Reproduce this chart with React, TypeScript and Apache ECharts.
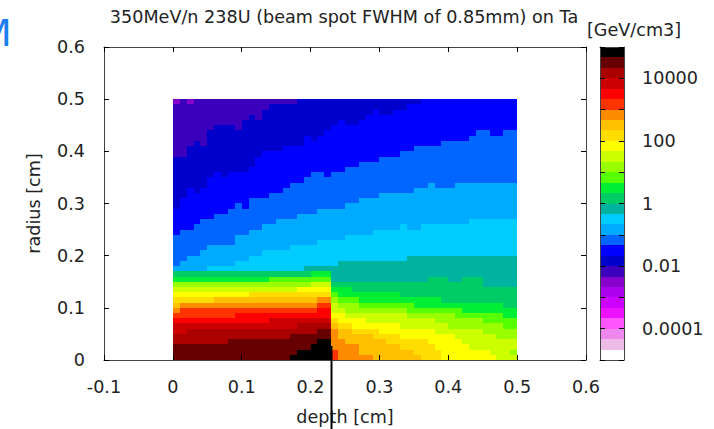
import React, { useEffect, useRef } from "react";
import * as echarts from "echarts";

const title = "350MeV/n 238U (beam spot FWHM of 0.85mm) on Ta";
const unitLabel = "[GeV/cm3]";
const xName = "depth [cm]";
const yName = "radius [cm]";
const barTickLabels: Record<string, string> = { "4": "10000", "2": "100", "0": "1", "-2": "0.01", "-4": "0.0001" };

// colour bands, coldest to hottest, one third of a decade each, from 1e-5 to 1e5
const palette = [
  "#ffffff", "#eebbe8", "#ee88ee", "#ff55ff", "#ee11ff", "#cc00ff", "#aa00ee", "#8800cc", "#3a00bb", "#0000cc",
  "#0000ff", "#0066ff", "#00aaff", "#00ccff", "#00b3a0", "#00cc66", "#00ee33", "#55ff00", "#99ff00", "#ccff00",
  "#ffff00", "#ffdd00", "#ffc000", "#ff8c00", "#ff3300", "#ff0000", "#cc0000", "#aa0000", "#660000", "#000000",
];

// For each band, in each of the 50 depth columns: number of radius rows (from the axis up) at or above that band.
const band8 = [49,50,49,50,50,50,50,50,50,50,50,50,50,50,50,50,50,50,50,50,50,50,50,50,50,50,50,50,50,50,50,50,50,50,50,50,50,50,50,50,50,50,50,50,50,50,50,50,50,50];
const band9 = [39,39,41,42,41,44,45,45,45,44,46,47,46,48,49,49,49,49,50,50,50,50,50,50,50,50,50,50,50,50,50,50,50,50,50,50,50,50,50,50,50,50,50,50,50,50,50,50,50,50];
const band10 = [29,31,33,32,33,35,36,35,36,36,36,37,39,40,40,40,41,41,41,43,42,43,44,45,46,45,45,46,47,48,47,47,48,48,49,49,50,50,50,50,50,50,50,50,50,50,50,50,50,50];
const band11 = [24,25,25,26,27,27,28,28,29,30,29,31,31,31,32,32,33,34,34,35,36,36,35,36,36,37,37,38,38,38,39,39,39,40,40,41,41,41,41,42,42,42,42,43,44,44,43,43,44,44];
const band12 = [18,19,20,20,21,22,22,22,22,24,24,25,25,26,26,27,27,27,28,28,28,29,29,29,29,30,30,31,31,31,32,32,32,32,32,33,33,34,33,33,33,34,34,34,34,34,34,34,34,34];
const band13 = [17,17,17,17,17,18,18,18,18,19,19,20,20,21,21,21,21,22,22,22,22,23,23,23,23,24,24,24,24,25,25,25,25,26,25,25,26,26,26,26,26,26,26,27,27,27,27,27,27,27];
const band14 = [17,17,17,17,17,17,17,17,17,17,17,17,17,17,17,17,17,17,17,18,18,18,18,18,19,19,19,19,19,19,19,19,19,19,20,20,20,20,20,20,20,20,20,20,20,20,20,20,20,20];
const band15 = [17,17,17,17,17,17,17,17,17,17,17,17,17,17,17,17,17,17,17,17,17,17,17,15,15,15,15,15,15,15,15,15,15,15,15,15,15,16,16,16,15,15,16,16,16,14,14,14,14,14];
const band16 = [16,16,16,16,16,16,16,16,16,16,16,16,16,16,16,16,16,16,16,16,17,17,17,14,14,14,13,13,13,13,13,13,13,12,12,12,12,12,12,11,11,11,11,11,11,11,11,11,10,10];
const band17 = [15,15,15,15,15,15,15,15,15,15,15,15,15,15,16,16,16,16,16,16,16,16,16,13,12,12,12,11,11,11,11,11,11,11,11,10,10,10,10,10,10,10,9,9,9,9,9,9,8,8];
const band18 = [15,15,15,15,15,15,15,15,15,15,15,15,15,15,15,15,15,15,15,15,15,15,15,12,11,11,11,10,10,10,10,10,10,10,9,9,9,9,9,9,9,8,8,8,8,7,7,7,6,6];
const band19 = [14,14,14,14,14,14,14,14,14,14,14,14,14,14,14,14,14,14,14,14,15,15,15,11,10,9,9,9,9,9,9,9,9,9,8,8,8,8,7,7,6,6,6,6,6,5,5,4,4,4];
const band20 = [13,13,13,13,13,13,13,13,13,13,13,13,13,13,13,13,13,13,14,14,14,14,14,9,9,8,8,8,7,7,7,7,7,6,6,6,6,6,5,5,5,4,3,2,2,2,1,0,0,0];
const band21 = [12,12,12,12,12,12,12,12,12,12,12,13,13,13,13,13,13,13,13,13,13,13,13,8,7,7,6,6,6,6,5,5,5,4,4,4,4,3,2,0,0,0,0,0,0,0,0,0,0,0];
const band22 = [11,11,11,11,11,11,12,12,12,12,12,12,12,12,12,12,12,12,12,12,12,12,12,7,6,6,5,5,5,4,4,3,3,2,2,1,0,0,0,0,0,0,0,0,0,0,0,0,0,0];
const band23 = [10,11,11,11,11,11,11,11,11,11,11,11,11,11,11,11,11,11,11,11,11,12,12,6,4,3,3,1,1,0,0,0,0,0,0,0,0,0,0,0,0,0,0,0,0,0,0,0,0,0];
const band24 = [9,10,10,10,10,10,10,10,10,10,10,10,10,10,10,10,10,10,10,10,10,11,11,2,0,0,0,0,0,0,0,0,0,0,0,0,0,0,0,0,0,0,0,0,0,0,0,0,0,0];
const band25 = [8,8,8,8,8,8,8,8,8,9,9,9,9,9,9,9,9,9,9,9,9,10,10,0,0,0,0,0,0,0,0,0,0,0,0,0,0,0,0,0,0,0,0,0,0,0,0,0,0,0];
const band26 = [7,7,7,7,7,7,7,7,7,7,7,7,7,7,8,8,8,8,8,8,8,8,8,0,0,0,0,0,0,0,0,0,0,0,0,0,0,0,0,0,0,0,0,0,0,0,0,0,0,0];
const band27 = [5,5,6,6,6,6,6,6,6,6,6,6,6,6,6,6,6,6,7,7,7,7,7,0,0,0,0,0,0,0,0,0,0,0,0,0,0,0,0,0,0,0,0,0,0,0,0,0,0,0];
const band28 = [3,3,3,3,3,3,3,3,4,4,4,4,4,4,4,4,4,5,5,5,5,6,6,0,0,0,0,0,0,0,0,0,0,0,0,0,0,0,0,0,0,0,0,0,0,0,0,0,0,0];
const band29 = [0,0,0,0,0,0,0,0,0,0,0,0,0,0,0,0,0,1,2,2,3,4,4,0,0,0,0,0,0,0,0,0,0,0,0,0,0,0,0,0,0,0,0,0,0,0,0,0,0,0];
const bandTable = [band8,band9,band10,band11,band12,band13,band14,band15,band16,band17,band18,band19,band20,band21,band22,band23,band24,band25,band26,band27,band28,band29];

const FIRST_BAND = 8;
const COLS = 50;
const ROWS = 50;
const BIN = 0.01;

function bandAt(c: number, r: number): number {
  if (c === 49 && r === 1) return 18;
  for (let i = bandTable.length - 1; i >= 0; i--) {
    if (r < bandTable[i][c]) return FIRST_BAND + i;
  }
  return FIRST_BAND - 1;
}

const cells: number[][] = [];
for (let c = 0; c < COLS; c++) {
  for (let r = 0; r < ROWS; r++) {
    cells.push([c * BIN, r * BIN, bandAt(c, r)]);
  }
}
const barBands = palette.map((_, i) => [-5 + i / 3, i]);

const textColor = "#222";
const axisColor = "#444";
const FONT = "DejaVu Sans";
const FS = 17.6;

export default function App() {
  const ref = useRef<HTMLDivElement>(null);
  useEffect(() => {
    document.body.style.margin = "0";
    const chart = echarts.init(ref.current!, undefined, { renderer: "svg" });
    const fmt = (v: number) => String(+v.toFixed(1));
    const baseAxis = {
      type: "value",
      min: 0,
      max: 0.6,
      interval: 0.1,
      splitLine: { show: false },
      z: 5,
      axisLine: { show: true, onZero: false, lineStyle: { color: axisColor, width: 1 } },
      axisTick: { show: true, inside: true, length: 5, lineStyle: { color: "#000", width: 1 } },
      axisLabel: { show: false },
    };
    chart.setOption({
      animation: false,
      textStyle: { fontFamily: FONT },
      title: {
        text: title,
        left: 339,
        top: 3,
        textAlign: "center",
        textStyle: { fontSize: FS, fontWeight: "normal", color: textColor, fontFamily: FONT },
      },
      grid: [
        { left: 104, top: 47, width: 482, height: 313, outerBoundsMode: "none" },
        { left: 600, top: 47, width: 24, height: 313, outerBoundsMode: "none" },
      ],
      xAxis: [
        {
          ...baseAxis, min: -0.1, max: 0.6, gridIndex: 0, position: "bottom",
          name: xName, nameLocation: "middle", nameGap: 48,
          nameTextStyle: { fontSize: FS, color: textColor, fontFamily: FONT },
          axisLabel: { show: true, margin: 18, fontSize: FS, color: textColor, fontFamily: FONT, formatter: fmt },
        },
        { ...baseAxis, min: -0.1, max: 0.6, gridIndex: 0, position: "top" },
        { ...baseAxis, min: 0, max: 1, interval: 1, gridIndex: 1, position: "bottom", axisTick: { show: false } },
        { ...baseAxis, min: 0, max: 1, interval: 1, gridIndex: 1, position: "top", axisTick: { show: false } },
      ],
      yAxis: [
        {
          ...baseAxis, gridIndex: 0, position: "left",
          name: yName, nameLocation: "middle", nameGap: 61, nameRotate: 90,
          nameTextStyle: { fontSize: FS, color: textColor, fontFamily: FONT },
          axisLabel: { show: true, margin: 19, fontSize: FS, color: textColor, fontFamily: FONT, formatter: fmt },
        },
        { ...baseAxis, gridIndex: 0, position: "right" },
        { ...baseAxis, min: -5, max: 5, interval: 1, gridIndex: 1, position: "left" },
        {
          ...baseAxis, min: -5, max: 5, interval: 1, gridIndex: 1, position: "right",
          axisLabel: {
            show: true, margin: 18, fontSize: FS, color: textColor, fontFamily: FONT,
            formatter: (v: number) => barTickLabels[String(v)] ?? "",
          },
        },
      ],
      series: [
        {
          type: "custom",
          xAxisIndex: 0,
          yAxisIndex: 0,
          silent: true,
          progressive: 0,
          clip: false,
          data: cells,
          renderItem: (_: any, api: any) => {
            const x = api.value(0);
            const y = api.value(1);
            const a = api.coord([x, y]);
            const b = api.coord([x + BIN, y + BIN]);
            const x0 = Math.round(a[0]);
            const x1 = Math.round(b[0]);
            const y0 = Math.round(a[1]);
            const y1 = Math.round(b[1]);
            return {
              type: "rect",
              shape: { x: x0, y: y1, width: x1 - x0, height: y0 - y1 },
              style: { fill: palette[api.value(2)] },
            };
          },
        },
        {
          type: "custom",
          xAxisIndex: 2,
          yAxisIndex: 2,
          silent: true,
          progressive: 0,
          clip: false,
          data: barBands,
          renderItem: (_: any, api: any) => {
            const low = api.value(0);
            const a = api.coord([0, low]);
            const b = api.coord([1, low + 1 / 3]);
            const y0 = Math.round(a[1]);
            const y1 = Math.round(b[1]);
            return {
              type: "rect",
              shape: { x: a[0], y: y1, width: b[0] - a[0], height: y0 - y1 },
              style: { fill: palette[api.value(1)] },
            };
          },
        },
      ],
      graphic: [
        { type: "text", x: 587, y: 21, style: { text: unitLabel, fontSize: FS, fill: textColor, fontFamily: FONT } },
        { type: "text", x: -21, y: 14, style: { text: "M", fontSize: 38, fill: "#1a80f0", fontFamily: FONT } },
        { type: "line", z: 10, shape: { x1: 331.5, y1: 346, x2: 331.5, y2: 429 }, style: { stroke: "#000", lineWidth: 2 } },
      ],
    });
    return () => chart.dispose();
  }, []);
  return <div ref={ref} style={{ width: 714, height: 429, overflow: "hidden" }} />;
}
